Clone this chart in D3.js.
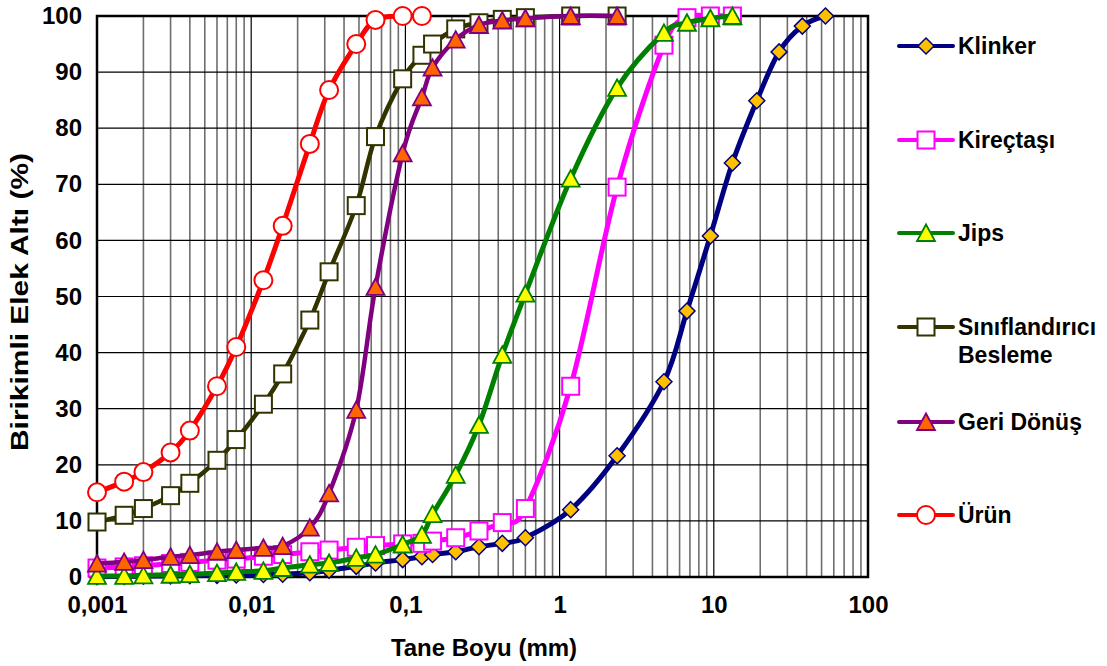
<!DOCTYPE html>
<html>
<head>
<meta charset="utf-8">
<script src="https://cdn.jsdelivr.net/npm/d3@7"></script>
<style>
  html, body { margin: 0; padding: 0; background: #fff; }
  svg { display: block; }
  text { font-family: "Liberation Sans", Arial, sans-serif; font-weight: bold; fill: #000; }
</style>
</head>
<body>
<svg id="chart" width="1107" height="666"></svg>
<script>
// Particle size (mm): fine analysis sizes followed by sieve sizes
const sizes = [0.001, 0.0015, 0.002, 0.003, 0.004, 0.006, 0.008, 0.012, 0.016, 0.024, 0.032, 0.048, 0.064, 0.096, 0.128,
               0.15, 0.212, 0.3, 0.425, 0.6, 1.18, 2.36, 4.75, 6.7, 9.5, 13.2, 19, 26.5, 37.5, 53];

// Cumulative passing (%) for each stream, in the order of `sizes`
const klinker = [0.05, 0.1, 0.15, 0.2, 0.25, 0.3, 0.35, 0.45, 0.5, 0.75, 1.2, 1.9, 2.5, 3.1, 3.6,
                 4.0, 4.5, 5.4, 6.0, 7.0, 12.0, 21.6, 34.8, 47.4, 60.8, 73.8, 84.9, 93.6, 98.2, 100];
const kirectasi = [1.6, 1.8, 2.0, 2.4, 2.6, 3.0, 3.2, 3.7, 4.0, 4.5, 4.8, 5.3, 5.6, 5.9, 6.0,
                   6.4, 7.0, 8.2, 9.7, 12.2, 34.0, 69.5, 94.8, 99.7, 100, 100];
const jips = [0.2, 0.2, 0.3, 0.4, 0.5, 0.7, 0.9, 1.1, 1.6, 2.2, 2.5, 3.4, 4.0, 5.8, 7.5,
              11.2, 18.2, 27.1, 39.6, 50.5, 71.0, 87.2, 97.0, 98.8, 99.6, 100];
const siniflandirici = [9.8, 11.0, 12.2, 14.5, 16.7, 20.8, 24.5, 30.8, 36.2, 45.8, 54.4, 66.2, 78.5, 88.8, 93.0,
                        95.0, 97.7, 98.8, 99.4, 99.7, 100, 100];
const geriDonus = [2.4, 2.7, 3.0, 3.6, 3.9, 4.5, 4.8, 5.2, 5.5, 8.8, 14.9, 29.8, 51.7, 75.5, 85.5,
                   90.8, 95.8, 98.4, 99.2, 99.6, 100, 100];
const urun = [15.1, 17.0, 18.7, 22.2, 26.1, 34.0, 41.0, 52.9, 62.6, 77.2, 86.8, 95.0, 99.3, 100, 100];

const xTickValues = [0.001, 0.01, 0.1, 1, 10, 100];
const xTickLabels = ["0,001", "0,01", "0,1", "1", "10", "100"];
const yTickValues = [0, 10, 20, 30, 40, 50, 60, 70, 80, 90, 100];

const seriesNames = ["Klinker", "Kireçtaşı", "Jips", "Sınıflandırıcı\nBesleme", "Geri Dönüş", "Ürün"];
const seriesValues = [klinker, kirectasi, jips, siniflandirici, geriDonus, urun];
const seriesStyle = [
  { line: "#000080", width: 5,   marker: "diamond",  fill: "#FFC000", stroke: "#000080" },
  { line: "#FF00FF", width: 5,   marker: "square",   fill: "#FFFFFF", stroke: "#FF00FF" },
  { line: "#008000", width: 5,   marker: "triangle", fill: "#FFFF00", stroke: "#008000" },
  { line: "#333300", width: 4.5, marker: "square",   fill: "#FFFFFF", stroke: "#333300" },
  { line: "#800080", width: 4.5, marker: "triangle", fill: "#FF6600", stroke: "#800080" },
  { line: "#FF0000", width: 5,   marker: "circle",   fill: "#FFFFFF", stroke: "#FF0000" }
];

const svg = d3.select("#chart");
const W = 1107, H = 666;
const plot = { left: 97, right: 868, top: 16, bottom: 577 };

const x = d3.scaleLog().domain([0.001, 100]).range([plot.left, plot.right]);
const y = d3.scaleLinear().domain([0, 100]).range([plot.bottom, plot.top]);

svg.append("rect").attr("width", W).attr("height", H).attr("fill", "#fff");

// Grid: minor log lines, decade lines, horizontal lines
const grid = svg.append("g");
const minor = [];
for (let e = -3; e < 2; e++) for (let k = 2; k <= 9; k++) minor.push(k * Math.pow(10, e));
grid.selectAll(".minor").data(minor).join("line")
  .attr("x1", d => x(d)).attr("x2", d => x(d))
  .attr("y1", plot.top).attr("y2", plot.bottom)
  .attr("stroke", "#6e6e6e").attr("stroke-width", 1.6);
grid.selectAll(".major").data(xTickValues).join("line")
  .attr("x1", d => x(d)).attr("x2", d => x(d))
  .attr("y1", plot.top).attr("y2", plot.bottom)
  .attr("stroke", "#000").attr("stroke-width", 1.2);
grid.selectAll(".hline").data(yTickValues).join("line")
  .attr("x1", plot.left).attr("x2", plot.right)
  .attr("y1", d => y(d)).attr("y2", d => y(d))
  .attr("stroke", "#000").attr("stroke-width", 1.2);

// Axes (labels only, frame drawn separately)
const xAxis = d3.axisBottom(x).tickValues(xTickValues)
  .tickFormat((d, i) => xTickLabels[i]).tickSize(0).tickPadding(19);
svg.append("g").attr("transform", `translate(0,${plot.bottom})`).call(xAxis)
  .call(g => g.select(".domain").remove())
  .call(g => g.selectAll("text").attr("font-size", 24).attr("font-family", null).attr("fill", "#000"));

const yAxis = d3.axisLeft(y).tickValues(yTickValues).tickSize(0).tickPadding(15);
svg.append("g").attr("transform", `translate(${plot.left},0)`).call(yAxis)
  .call(g => g.select(".domain").remove())
  .call(g => g.selectAll("text").attr("font-size", 24).attr("font-family", null).attr("fill", "#000"));

// Plot frame
svg.append("rect")
  .attr("x", plot.left).attr("y", plot.top)
  .attr("width", plot.right - plot.left).attr("height", plot.bottom - plot.top)
  .attr("fill", "none").attr("stroke", "#000").attr("stroke-width", 2.5);

// Axis titles
svg.append("text").attr("x", 484).attr("y", 656).attr("text-anchor", "middle")
  .attr("font-size", 24).text("Tane Boyu (mm)");
svg.append("text").attr("transform", "translate(28,302) rotate(-90)").attr("text-anchor", "middle")
  .attr("font-size", 24).attr("textLength", 298).attr("lengthAdjust", "spacingAndGlyphs")
  .text("Birikimli Elek Altı (%)");

// Marker painter
function drawMarker(sel, type, fill, stroke) {
  if (type === "circle") {
    sel.append("circle").attr("r", 9).attr("fill", fill).attr("stroke", stroke).attr("stroke-width", 2);
  } else if (type === "square") {
    sel.append("rect").attr("x", -8.5).attr("y", -8.5).attr("width", 17).attr("height", 17)
      .attr("fill", fill).attr("stroke", stroke).attr("stroke-width", 2);
  } else if (type === "triangle") {
    sel.append("path").attr("d", "M0,-8.5L9,8L-9,8Z")
      .attr("fill", fill).attr("stroke", stroke).attr("stroke-width", 1.8).attr("stroke-linejoin", "miter");
  } else if (type === "diamond") {
    sel.append("path").attr("d", "M0,-8L8,0L0,8L-8,0Z")
      .attr("fill", fill).attr("stroke", stroke).attr("stroke-width", 1.5);
  }
}

const line = d3.line()
  .x(d => x(d[0])).y(d => y(d[1]))
  .curve(d3.curveCardinal.tension(0));

// Series: smoothed line, then markers
seriesValues.forEach((vals, i) => {
  const st = seriesStyle[i];
  const pts = vals.map((v, j) => [sizes[j], v]);
  const g = svg.append("g");
  g.append("path").datum(pts).attr("d", line)
    .attr("fill", "none").attr("stroke", st.line).attr("stroke-width", st.width)
    .attr("stroke-linejoin", "round").attr("stroke-linecap", "round");
  g.selectAll("g.m").data(pts).join("g").attr("class", "m")
    .attr("transform", d => `translate(${x(d[0])},${y(d[1])})`)
    .each(function () { drawMarker(d3.select(this), st.marker, st.fill, st.stroke); });
});

// Legend
const legendY = [46, 140, 233, 327, 422, 515];
seriesNames.forEach((name, i) => {
  const st = seriesStyle[i];
  const g = svg.append("g").attr("transform", `translate(0,${legendY[i]})`);
  g.append("line").attr("x1", 899).attr("x2", 953).attr("y1", 0).attr("y2", 0)
    .attr("stroke", st.line).attr("stroke-width", 4).attr("stroke-linecap", "round");
  const m = g.append("g").attr("transform", "translate(926,0)");
  drawMarker(m, st.marker, st.fill, st.stroke);
  const t = g.append("text").attr("x", 958).attr("y", 8).attr("font-size", 23);
  name.split("\n").forEach((ln, k) => {
    t.append("tspan").attr("x", 958).attr("dy", k === 0 ? 0 : 28).text(ln);
  });
});
</script>
</body>
</html>
